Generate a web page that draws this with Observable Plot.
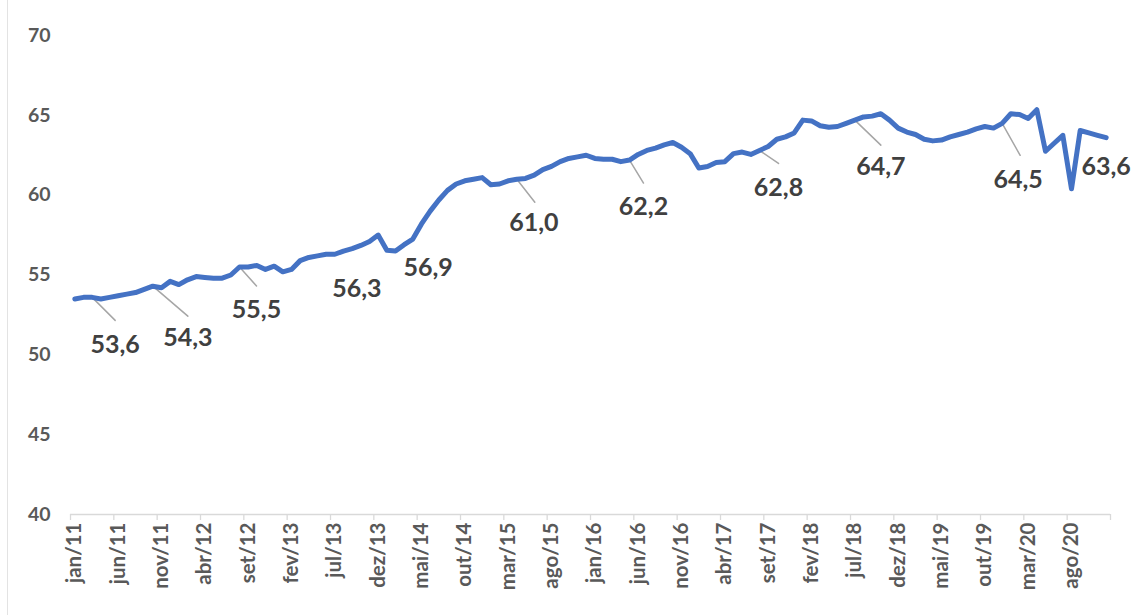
<!DOCTYPE html>
<html><head><meta charset="utf-8">
<script src="https://cdn.jsdelivr.net/npm/d3@7"></script>
<script src="https://cdn.jsdelivr.net/npm/@observablehq/plot@0.6"></script>
<style>
body{margin:0;background:#fff;}
#chart{position:relative;width:1136px;height:615px;}
#chart .edge{position:absolute;left:7px;top:0;width:1px;height:615px;background:#e3e3e3;}
</style>
</head><body><div id="chart"><div class="edge"></div></div>
<script>
const monthNames = ["jan","fev","mar","abr","mai","jun","jul","ago","set","out","nov","dez"];
const years = [11,12,13,14,15,16,17,18,19,20];
const months = years.flatMap(y => monthNames.map(m => `${m}/${y}`));

const values = [
  53.5, 53.6, 53.6, 53.5, 53.6, 53.7, 53.8, 53.9, 54.1, 54.3, 54.2, 54.6,
  54.4, 54.7, 54.9, 54.85, 54.8, 54.8, 55.0, 55.5, 55.5, 55.6, 55.35, 55.55,
  55.2, 55.35, 55.9, 56.1, 56.2, 56.3, 56.3, 56.5, 56.65, 56.85, 57.1, 57.5,
  56.55, 56.5, 56.9, 57.25, 58.2, 59.0, 59.7, 60.3, 60.7, 60.9, 61.0, 61.1,
  60.65, 60.7, 60.9, 61.0, 61.05, 61.25, 61.6, 61.8, 62.1, 62.3, 62.4, 62.5,
  62.3, 62.25, 62.25, 62.1, 62.2, 62.55, 62.8, 62.95, 63.15, 63.3, 63.0, 62.6,
  61.7, 61.8, 62.05, 62.1, 62.6, 62.7, 62.55, 62.8, 63.05, 63.5, 63.65, 63.9,
  64.7, 64.65, 64.35, 64.25, 64.3, 64.5, 64.7, 64.9, 64.95, 65.1, 64.7, 64.2,
  63.95, 63.8, 63.5, 63.4, 63.45, 63.65, 63.8, 63.95, 64.15, 64.3, 64.2, 64.5,
  65.1, 65.05, 64.8, 65.35, 62.75, 63.25, 63.75, 60.4, 64.05, 63.9, 63.75, 63.6
];

const annotMonths = ["mar/11","out/11","ago/12","jul/13","mar/14","abr/15","mai/16","ago/17","jul/18","dez/19","dez/20"];
const yTicks = [40, 45, 50, 55, 60, 65, 70];
const xLabelIdx = d3.range(0, 120, 5);
const xBoundaries = d3.range(-0.5, 120, 5);

// layout: label offsets (px) and leader end offsets (px), null = no leader
const labelOffsets = [[23,48],[35,52],[17,43],[22,35],[24,23],[17,44],[14,47],[19,38],[26,47],[16,57],[0,29]];
const leaderOffsets = [[23,23],[35,30],[17,19],null,null,[18,23],[14,23],[19,13],[26,25],[18,32],null];

const data = months.map((m, i) => ({i, m, v: values[i]}));
const ann = annotMonths.map((m, k) => {
  const i = months.indexOf(m);
  return {i, v: values[i], label: values[i].toFixed(1).replace(".", ","),
          lo: labelOffsets[k], ld: leaderOffsets[k]};
});

const FONT = "Lato, 'Open Sans', sans-serif";
const leaderShape = {draw(ctx, l) { ctx.moveTo(0, 0); ctx.lineTo(0, -l); }};

const marks = [
  Plot.ruleY([40], {stroke: "#d9d9d9", strokeWidth: 1.3}),
  Plot.axisX({ticks: xBoundaries, tickSize: 6, tickFormat: () => "", label: null,
              stroke: "#d9d9d9", strokeWidth: 1.3}),
  Plot.axisX({ticks: xLabelIdx, tickSize: 0, tickPadding: 8, tickRotate: -90, label: null,
              tickFormat: i => months[i], fontSize: 20.5, fontWeight: "bold", fill: "#595959"}),
  Plot.axisY({ticks: yTicks, tickSize: 0, tickPadding: 20, label: null,
              fontSize: 19.5, fontWeight: "bold", fill: "#595959"}),
  ...ann.filter(a => a.ld).map(a => Plot.vector([a], {
    x: "i", y: "v", anchor: "start", shape: leaderShape,
    length: Math.hypot(a.ld[0], a.ld[1]),
    rotate: Math.atan2(a.ld[0], -a.ld[1]) * 180 / Math.PI,
    stroke: "#a6a6a6", strokeWidth: 1.5
  })),
  Plot.line(data, {x: "i", y: "v", stroke: "#4472C4", strokeWidth: 5,
                   strokeLinejoin: "round", strokeLinecap: "round"}),
  ...ann.map(a => Plot.text([a], {
    x: "i", y: "v", text: "label", dx: a.lo[0], dy: a.lo[1],
    fontSize: 25, fontWeight: "bold", fill: "#404040", textAnchor: "middle"
  }))
];

const chart = Plot.plot({
  width: 1136, height: 615,
  marginLeft: 70, marginRight: 26, marginTop: 35, marginBottom: 101,
  x: {type: "linear", domain: [-0.5, 119.5], axis: null},
  y: {domain: [40, 70], axis: null},
  style: {fontFamily: FONT, background: "transparent", overflow: "visible"},
  marks
});
document.getElementById("chart").appendChild(chart);
</script>
</body></html>
